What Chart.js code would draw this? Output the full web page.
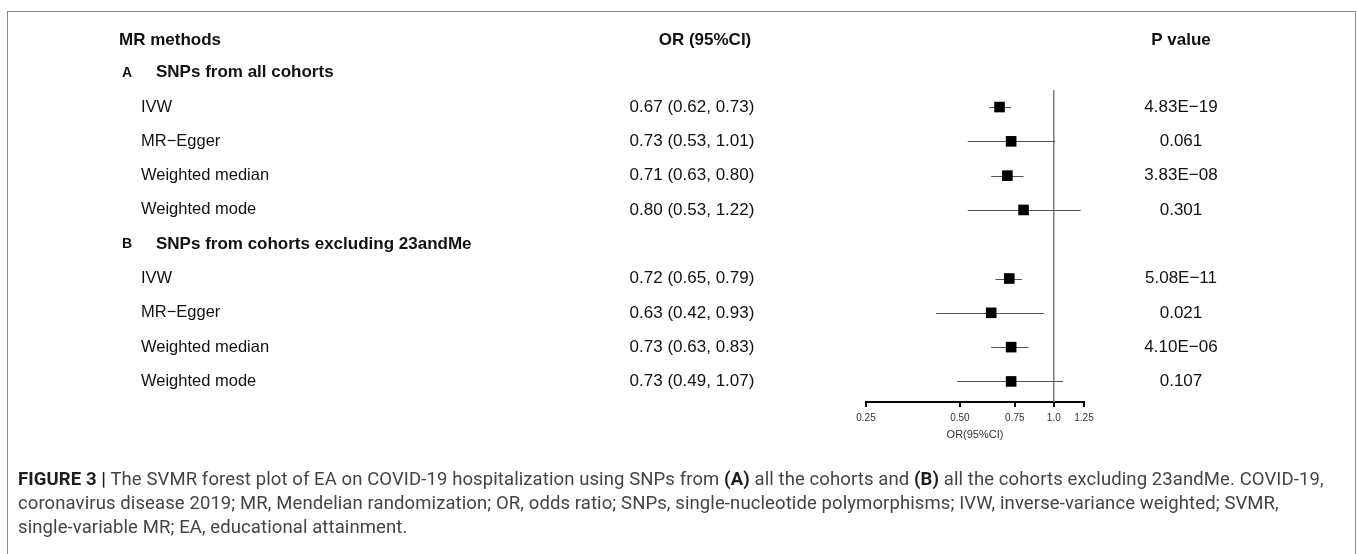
<!DOCTYPE html>
<html>
<head>
<meta charset="utf-8">
<script src="https://cdn.jsdelivr.net/npm/chart.js@4"></script>
<style>
    html, body { margin: 0; padding: 0; background: #fff; }
    #wrap { position: relative; width: 1357px; height: 554px; overflow: hidden; }
    #frame { position: absolute; left: 7px; top: 11px; width: 1349px; height: 600px; border: 1.5px solid #8a8a8a; box-sizing: border-box; }
    #forest { position: absolute; left: 0; top: 0; }
    #caption { position: absolute; left: 18px; top: 467px; width: 1335px; font-family: 'Roboto', sans-serif; font-size: 18.5px; letter-spacing: 0.1px; line-height: 24px; color: #444; white-space: nowrap; }
    #caption b { color: #1e1e1e; }
</style>
</head>
<body>
<div id="wrap">
    <div id="frame"></div>
    <canvas id="forest" width="1357" height="554"></canvas>
    <div id="caption"><b>FIGURE 3 |</b> The SVMR forest plot of EA on COVID-19 hospitalization using SNPs from <b>(A)</b> all the cohorts and <b>(B)</b> all the cohorts excluding 23andMe. COVID-19,<br>coronavirus disease 2019; MR, Mendelian randomization; OR, odds ratio; SNPs, single-nucleotide polymorphisms; IVW, inverse-variance weighted; SVMR,<br>single-variable MR; EA, educational attainment.</div>
</div>
<script>
const methods = ['IVW', 'MR\u2212Egger', 'Weighted median', 'Weighted mode'];
const groupTags = ['A', 'B'];
const groupTitles = ['SNPs from all cohorts', 'SNPs from cohorts excluding 23andMe'];

const orA = [0.67, 0.73, 0.71, 0.80];
const lowerA = [0.62, 0.53, 0.63, 0.53];
const upperA = [0.73, 1.01, 0.80, 1.22];
const pA = ['4.83E\u221219', '0.061', '3.83E\u221208', '0.301'];

const orB = [0.72, 0.63, 0.73, 0.73];
const lowerB = [0.65, 0.42, 0.63, 0.49];
const upperB = [0.79, 0.93, 0.83, 1.07];
const pB = ['5.08E\u221211', '0.021', '4.10E\u221206', '0.107'];

const xTicks = [0.25, 0.5, 0.75, 1.0, 1.25];
const xTickLabels = ['0.25', '0.50', '0.75', '1.0', '1.25'];

// rows of the table, row 0 is the column header
const rows = [];
[[orA, lowerA, upperA, pA], [orB, lowerB, upperB, pB]].forEach(([or, lo, hi, p], g) => {
    rows.push({type: 'group', tag: groupTags[g], title: groupTitles[g], row: rows.length + 1});
    methods.forEach((m, i) => {
        rows.push({type: 'item', label: m, or: or[i], lo: lo[i], hi: hi[i], p: p[i], row: rows.length + 1});
    });
});
const items = rows.filter(r => r.type === 'item');

const FONT = "'Liberation Sans', Arial, sans-serif";
const OR_X = 692;
const P_X = 1181;

const forestPlugin = {
    id: 'forest',
    beforeDatasetsDraw(chart) {
        const {ctx, scales: {x, y}, chartArea} = chart;
        ctx.save();
        // line of no effect
        ctx.strokeStyle = '#7f7f7f';
        ctx.lineWidth = 1.5;
        ctx.beginPath();
        ctx.moveTo(x.getPixelForValue(1), y.getPixelForValue(1.5));
        ctx.lineTo(x.getPixelForValue(1), chartArea.bottom);
        ctx.stroke();
        // confidence intervals
        ctx.strokeStyle = '#555';
        ctx.lineWidth = 1;
        items.forEach(r => {
            const py = Math.round(y.getPixelForValue(r.row)) + 0.5;
            ctx.beginPath();
            ctx.moveTo(x.getPixelForValue(r.lo), py);
            ctx.lineTo(x.getPixelForValue(r.hi), py);
            ctx.stroke();
        });
        ctx.restore();
    },
    afterDraw(chart) {
        const {ctx, scales: {y}} = chart;
        ctx.save();
        ctx.fillStyle = '#111';
        ctx.textBaseline = 'middle';
        const y0 = y.getPixelForValue(0) + 1.5;
        ctx.font = 'bold 17px ' + FONT;
        ctx.textAlign = 'left';
        ctx.fillText('MR methods', 119, y0);
        ctx.textAlign = 'center';
        ctx.fillText('OR (95%CI)', 705, y0);
        ctx.fillText('P value', P_X, y0);
        rows.forEach(r => {
            const py = y.getPixelForValue(r.row);
            if (r.type === 'group') {
                ctx.textAlign = 'left';
                ctx.font = 'bold 14px ' + FONT;
                ctx.fillText(r.tag, 122, py);
                ctx.font = 'bold 17px ' + FONT;
                ctx.fillText(r.title, 156, py);
            } else {
                ctx.font = '16.5px ' + FONT;
                ctx.textAlign = 'left';
                ctx.fillText(r.label, 141, py);
                ctx.textAlign = 'center';
                ctx.font = '17px ' + FONT;
                ctx.fillText(`${r.or.toFixed(2)} (${r.lo.toFixed(2)}, ${r.hi.toFixed(2)})`, OR_X, py);
                ctx.fillText(r.p, P_X, py);
            }
        });
        ctx.restore();
    }
};

new Chart(document.getElementById('forest'), {
    type: 'scatter',
    data: {
        datasets: [{
            data: items.map(r => ({x: r.or, y: r.row})),
            backgroundColor: '#000',
            borderWidth: 0,
            pointStyle: 'rect',
            pointRadius: 7.5,
            pointHoverRadius: 7.5
        }]
    },
    options: {
        responsive: false,
        animation: false,
        events: [],
        layout: {padding: {left: 866, right: 273, top: 11, bottom: 112}},
        plugins: {legend: {display: false}, tooltip: {enabled: false}},
        scales: {
            x: {
                type: 'logarithmic',
                min: 0.25,
                max: 1.25,
                afterBuildTicks: scale => { scale.ticks = xTicks.map(v => ({value: v})); },
                afterFit: scale => { scale.height = 40; },
                ticks: {
                    autoSkip: false,
                    maxRotation: 0,
                    padding: 5,
                    color: '#333',
                    font: {family: FONT, size: 10},
                    callback: (v, i) => xTickLabels[i]
                },
                grid: {display: true, drawOnChartArea: false, drawTicks: true, tickLength: 5, color: '#000', lineWidth: 2},
                border: {display: true, color: '#000', width: 2},
                title: {display: true, text: 'OR(95%CI)', color: '#333', font: {family: FONT, size: 11}, padding: {top: 0, bottom: 0}}
            },
            y: {
                type: 'linear',
                reverse: true,
                min: -0.8,
                max: 10.6,
                display: false
            }
        }
    },
    plugins: [forestPlugin]
});
</script>
</body>
</html>
